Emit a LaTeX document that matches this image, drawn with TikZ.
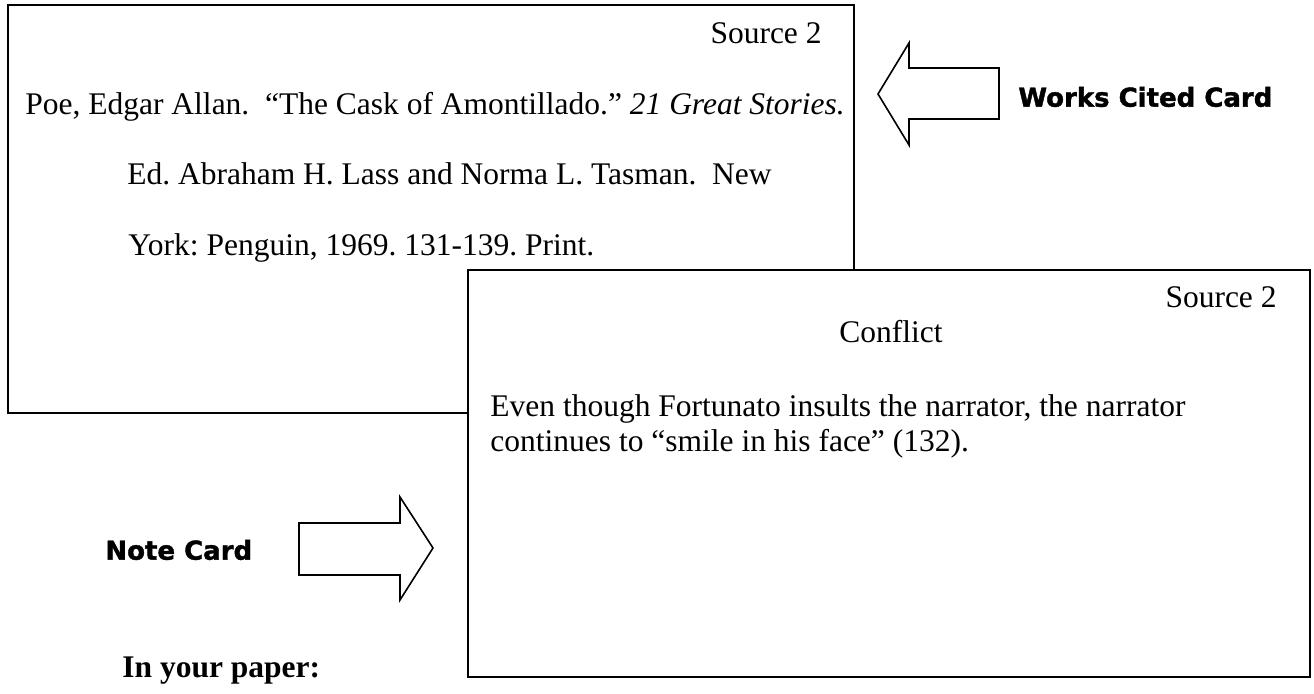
\documentclass[tikz,border=0pt]{standalone}
\usepackage{fontspec}
\setmainfont{Liberation Serif}
\newfontfamily\labelfont[BoldFeatures={FakeBold=1.5}]{DejaVu Sans}
\frenchspacing
\begin{document}
\begin{tikzpicture}[x=0.5pt,y=-0.5pt,
  cardbox/.style={draw=black,line width=1.1pt,fill=white},
  blockarrow/.style={draw=black,line width=0.8pt,fill=white,line join=miter},
  cardtext/.style={inner sep=0pt,font=\fontsize{15.75}{18}\selectfont},
  tagtext/.style={inner sep=0pt,font=\labelfont\bfseries\fontsize{13}{15}\selectfont}]
\useasboundingbox[fill=white] (0,0) rectangle (1314,694);
% works cited card
\draw[cardbox] (8,5) rectangle (854,413);
\node[cardtext,anchor=base east] (s1) at (822,44) {Source 2};
\node[cardtext,anchor=base west] (l1) at (25,115) {Poe, Edgar Allan.\ \ “The Cask of Amontillado.” \textit{21 Great Stories.}};
\node[cardtext,anchor=base west] (l2) at (127,185) {Ed. Abraham H. Lass and Norma L. Tasman.\ \ New};
\node[cardtext,anchor=base west] (l3) at (128,256) {York: Penguin, 1969. 131-139. Print.};
% note card
\draw[cardbox] (468,270) rectangle (1310,677);
\node[cardtext,anchor=base east] (s2) at (1277,308) {Source 2};
\node[cardtext,anchor=base] (cf) at (891,343) {Conflict};
\node[cardtext,anchor=base west] (e1) at (490,417) {Even though Fortunato insults the narrator, the narrator};
\node[cardtext,anchor=base west] (e2) at (490,452) {continues to “smile in his face” (132).};
% arrows
\draw[blockarrow] (878,94) -- (909,43) -- (909,68) -- (999,68) -- (999,119) -- (909,119) -- (909,145) -- cycle;
\node[tagtext,anchor=west] (wc) at (1018,97) {Works Cited Card};
\draw[blockarrow] (433,548) -- (400,497) -- (400,523) -- (299,523) -- (299,575) -- (400,575) -- (400,600) -- cycle;
\node[tagtext,anchor=west] (nc) at (105,550) {Note Card};
% bottom text
\node[cardtext,anchor=base west,font=\fontsize{15.75}{18}\selectfont\bfseries] (yp) at (122,678) {In your paper:};
\end{tikzpicture}
\end{document}
